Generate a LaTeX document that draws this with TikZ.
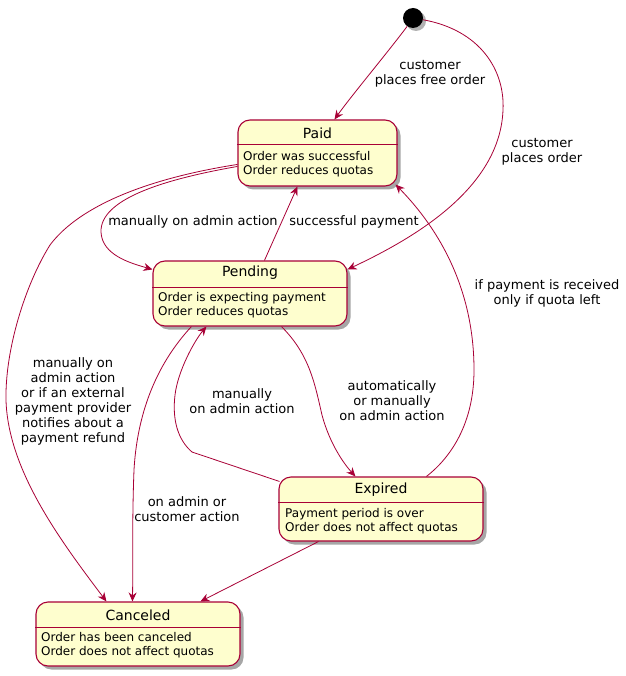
\documentclass[tikz,border=0pt]{standalone}
\usepackage{fontspec}
\setmainfont{DejaVu Sans}
\usetikzlibrary{calc,shadows,arrows.meta}
\definecolor{sfill}{HTML}{FEFECE}
\definecolor{sline}{HTML}{A80036}
\tikzset{
 statebox/.style={draw=sline, fill=sfill, line width=1.1pt, rounded corners=12pt, inner sep=0,
   drop shadow={shadow xshift=3.5pt, shadow yshift=-3.5pt, fill=black, opacity=0.35}},
 stitle/.style={font=\fontsize{14}{16}\selectfont, inner sep=0},
 sbody/.style={font=\fontsize{12}{14}\selectfont, inner sep=0, align=left, anchor=west},
 elabel/.style={font=\fontsize{13}{15}\selectfont, align=center, inner sep=0},
 edge/.style={draw=sline, line width=0.8pt, -{Stealth[length=9pt,width=8pt,inset=3pt]}},
 divider/.style={draw=sline, line width=1.1pt},
}
\begin{document}
\begin{tikzpicture}[x=1pt,y=-1pt]
\fill[white] (0,0) rectangle (625,676);
\useasboundingbox (0,0) rectangle (625,676);

% initial
\node[circle, fill=black, minimum size=20pt, inner sep=0,
  drop shadow={shadow xshift=3pt, shadow yshift=-3pt, fill=black, opacity=0.3}] (init) at (413,18) {};

% states
\node[statebox, minimum width=159pt, minimum height=66pt] (paid) at (317.5,153) {};
\draw[divider] ($(paid.north west)+(0,25)$) -- ($(paid.north east)+(0,25)$);
\node[stitle] (paidt) at (317.5,133) {Paid};
\node[sbody] (paidb) at (243,164.5) {Order was successful\\Order reduces quotas};

\node[statebox, minimum width=194pt, minimum height=65pt] (pending) at (250,293.5) {};
\draw[divider] ($(pending.north west)+(0,27)$) -- ($(pending.north east)+(0,27)$);
\node[stitle] (pendingt) at (250,273) {Pending};
\node[sbody] (pendingb) at (158,305) {Order is expecting payment\\Order reduces quotas};

\node[statebox, minimum width=204pt, minimum height=64pt] (expired) at (381,509) {};
\draw[divider] ($(expired.north west)+(0,26)$) -- ($(expired.north east)+(0,26)$);
\node[stitle] (expiredt) at (381,490) {Expired};
\node[sbody] (expiredb) at (285,521) {Payment period is over\\Order does not affect quotas};

\node[statebox, minimum width=204pt, minimum height=64pt] (canceled) at (138,634) {};
\draw[divider] ($(canceled.north west)+(0,26)$) -- ($(canceled.north east)+(0,26)$);
\node[stitle] (canceledt) at (138,615) {Canceled};
\node[sbody] (canceledb) at (41,645.5) {Order has been canceled\\Order does not affect quotas};

% edges
\draw[edge] (init.235) .. controls (388,52) and (352,95) .. ($(paid.north west)+(97,0)$);
\draw[edge] (init.350) .. controls (480,30) and (505,70) .. (503,110)
   .. controls (500,190) and (410,240) .. ($(pending.north east)+(0,9)$);
\draw[edge] ($(paid.north west)+(0,47)$) .. controls (160,180) and (100,200) .. (101,232)
   .. controls (102,255) and (130,263) .. ($(pending.north west)+(0,9)$);
\draw[edge] ($(pending.north west)+(112,0)$) -- ($(paid.south west)+(60,0)$);
\draw[edge] ($(paid.north west)+(0,45)$) .. controls (150,178) and (80,205) .. (50,245)
   .. controls (25,285) and (5,350) .. (6,400)
   .. controls (8,470) and (60,540) .. ($(canceled.north west)+(71,0)$);
\draw[edge] ($(pending.south west)+(39,0)$) .. controls (165,355) and (138,400) .. (134,470)
   .. controls (132,520) and (133,570) .. ($(canceled.north west)+(97,0)$);
\draw[edge] ($(pending.south west)+(129,0)$) .. controls (310,355) and (315,385) .. (322,415)
   .. controls (330,445) and (345,465) .. ($(expired.north west)+(77,0)$);
\draw[edge] ($(expired.north west)+(1,5)$) -- (192,452)
   .. controls (178,440) and (172,420) .. (175,395)
   .. controls (178,370) and (195,340) .. ($(pending.south west)+(54,0)$);
\draw[edge] ($(expired.north west)+(148,0)$) .. controls (445,462) and (474,430) .. (474,370)
   .. controls (474,290) and (440,230) .. ($(paid.south east)+(-2,-2)$);
\draw[edge] ($(expired.south west)+(40,0)$) -- ($(canceled.north west)+(165,0)$);

% labels
\node[elabel] (l1) at (430,74) {customer\\places free order};
\node[elabel] (l2) at (542,152) {customer\\places order};
\node[elabel] (l3) at (193,222) {manually on admin action};
\node[elabel] (l4) at (354,222) {successful payment};
\node[elabel] (l5) at (547,293) {if payment is received\\only if quota left};
\node[elabel] (l6) at (73,401.5) {manually on\\admin action\\or if an external\\payment provider\\notifies about a\\payment refund};
\node[elabel] (l7) at (392,401) {automatically\\or manually\\on admin action};
\node[elabel] (l8) at (242,401) {manually\\on admin action};
\node[elabel] (l9) at (187,509.5) {on admin or\\customer action};
\end{tikzpicture}
\end{document}
